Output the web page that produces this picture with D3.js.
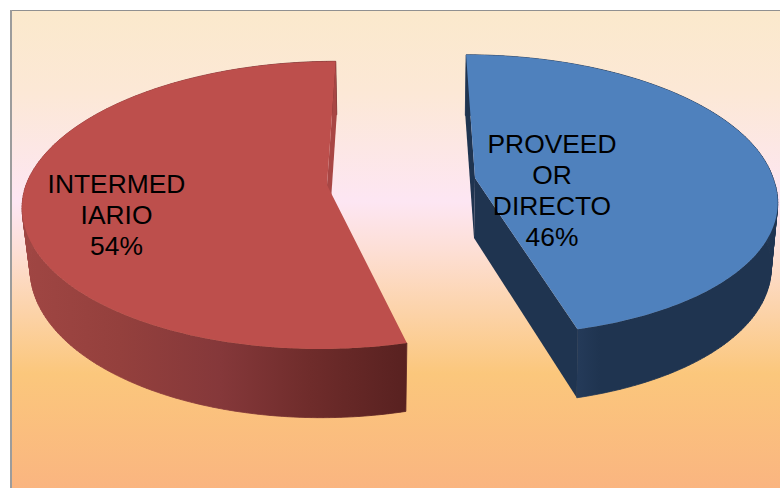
<!DOCTYPE html>
<html>
<head>
<meta charset="utf-8">
<script src="https://cdn.jsdelivr.net/npm/d3@7/dist/d3.min.js"></script>
<style>html,body{margin:0;padding:0;background:#fff}svg{display:block}</style>
</head>
<body>
<svg id="c" width="780" height="488"></svg>
<script>
const categories = ["PROVEEDOR DIRECTO", "INTERMEDIARIO"];
const values = [46, 54];
const labelLines = [["PROVEED", "OR", "DIRECTO"], ["INTERMED", "IARIO"]];
const topColors = ["#4f81bd", "#bd4f4c"];
const cutColors = ["#1f3450", "#a84644"];
const bgStops = [[0, "#fbe9cc"], [0.17, "#fce8d6"], [0.4, "#fde6f3"], [0.5, "#fddfd6"], [0.76, "#fbc77c"], [1, "#fab580"]];
const wallStops = [
  [[575, "#253b5a"], [600, "#1f3450"], [780, "#1f3450"]],
  [[22, "#a04643"], [120, "#94403d"], [220, "#85383a"], [310, "#6f2c2b"], [407, "#582120"]]
];

const svg = d3.select("#c");
const W = 780, H = 488;

// Background panel with frame
const defs = svg.append("defs");
const lg = defs.append("linearGradient").attr("id", "bg").attr("x1", 0).attr("y1", 0).attr("x2", 0).attr("y2", 1);
bgStops.forEach(s => lg.append("stop").attr("offset", s[0]).attr("stop-color", s[1]));
svg.append("rect").attr("x", 11).attr("y", 11).attr("width", W - 11).attr("height", H - 11).attr("fill", "url(#bg)");
svg.append("rect").attr("x", 10).attr("y", 10).attr("width", W - 10).attr("height", 1).attr("fill", "#909090");
svg.append("rect").attr("x", 10).attr("y", 10).attr("width", 2).attr("height", H - 10).attr("fill", "#9c9c9c");

// Wall gradients along x
wallStops.forEach((stops, i) => {
  const x0 = stops[0][0], x1 = stops[stops.length - 1][0];
  const wg = defs.append("linearGradient").attr("id", "wall" + i).attr("gradientUnits", "userSpaceOnUse")
    .attr("x1", x0).attr("x2", x1).attr("y1", 0).attr("y2", 0);
  stops.forEach(s => wg.append("stop").attr("offset", (s[0] - x0) / (x1 - x0)).attr("stop-color", s[1]));
});

// Per-slice perspective geometry [top face, bottom face]; cuts = which cut faces can be seen
const geom = [
  { t: { cx: 475, cy: 178, rx: 298, ry: 138, k: .12, sk: -10, skn: -17 },
    b: { cx: 474, cy: 238, rx: 291, ry: 141, k: .15, sk: -10, skn: -16 }, cuts: ["startAngle", "endAngle"] },
  { t: { cx: 327, cy: 185, rx: 301, ry: 141, k: .14, sk: 10, skn: 6 },
    b: { cx: 328, cy: 245, rx: 294, ry: 148.5, k: .14, sk: 10, skn: 6 }, cuts: ["endAngle"] }
];
function proj(g, a) {
  const X = Math.sin(a), Y = Math.cos(a), d = 1 + g.k * Y;
  return [g.cx + (g.rx * X + (Y > 0 ? g.sk : g.skn) * Y) / d, g.cy - g.ry * Y / d];
}

const pie = d3.pie().sort(null).value(d => d);
const arcs = pie(values);
const line = d3.line();

// red first, then blue
[1, 0].forEach(i => {
  const a = arcs[i], g = geom[i];
  const n = Math.round((a.endAngle - a.startAngle) * 180 / Math.PI);
  const angs = d3.range(n + 1).map(j => a.startAngle + (a.endAngle - a.startAngle) * j / n);
  const layer = svg.append("g").attr("class", "slice").attr("data-cat", categories[i]);

  // outer wall: quads between the top and bottom rim, as one path under one gradient
  const wall = d3.pairs(angs).map(([p, q]) =>
    line([proj(g.t, p), proj(g.t, q), proj(g.b, q), proj(g.b, p)]) + "Z").join("");
  layer.append("path").attr("d", wall).attr("fill", `url(#wall${i})`)
    .attr("stroke", `url(#wall${i})`).attr("stroke-width", 0.8);

  // cut faces
  g.cuts.forEach(k => {
    const e = a[k];
    const pts = [proj(g.t, e), proj(g.b, e), [g.b.cx, g.b.cy], [g.t.cx, g.t.cy]];
    layer.append("path").attr("d", line(pts) + "Z").attr("fill", cutColors[i]);
  });

  // top face
  const facePts = [[g.t.cx, g.t.cy]].concat(angs.map(t => proj(g.t, t)));
  layer.append("path").attr("d", line(facePts) + "Z").attr("fill", topColors[i]);
});

// Labels
const total = d3.sum(values);
const labelPos = [[552, 153], [116.5, 193]];
categories.forEach((c, i) => {
  const lines = labelLines[i].concat([d3.format(".0%")(values[i] / total)]);
  const t = svg.append("text").attr("x", labelPos[i][0]).attr("y", labelPos[i][1])
    .attr("text-anchor", "middle").attr("font-family", "'Liberation Sans', Arial, sans-serif")
    .attr("font-size", 26.4).attr("fill", "#000");
  lines.forEach((s, j) => t.append("tspan").attr("x", labelPos[i][0]).attr("dy", j ? 31 : 0).text(s));
});
</script>
</body>
</html>
